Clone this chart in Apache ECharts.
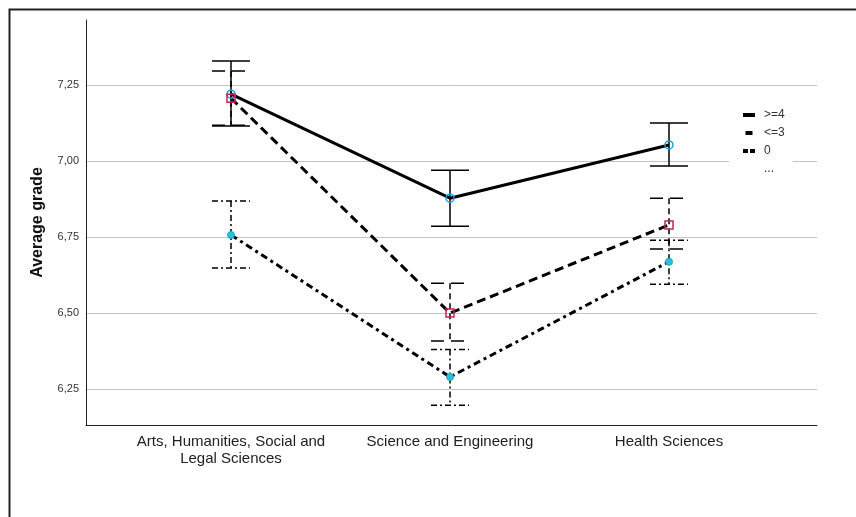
<!DOCTYPE html>
<html>
<head>
<meta charset="utf-8">
<script src="https://cdn.jsdelivr.net/npm/echarts@6/dist/echarts.min.js"></script>
<style>
  html, body { margin: 0; padding: 0; background: #fff; }
  #main { width: 856px; height: 517px; }
</style>
</head>
<body>
<div id="main"></div>
<script>
var categories = ['Arts, Humanities, Social and\nLegal Sciences', 'Science and Engineering', 'Health Sciences'];
var groups = ['>=4', '<=3', '0'];

// means and error bar ends (low / high)
var meanHigh = [7.220, 6.878, 7.053];
var lowHigh = [7.115, 6.786, 6.984];
var upHigh = [7.329, 6.970, 7.125];

var meanMid = [7.207, 6.500, 6.790];
var lowMid = [7.118, 6.408, 6.711];
var upMid = [7.296, 6.598, 6.878];

var meanZero = [6.757, 6.290, 6.669];
var lowZero = [6.648, 6.197, 6.595];
var upZero = [6.869, 6.380, 6.740];

var yTicks = [6.25, 6.5, 6.75, 7.0, 7.25];
var yMin = 6.132, yMax = 7.464;

var chartDom = document.getElementById('main');
var myChart = echarts.init(chartDom, null, { renderer: 'canvas' });

function errData(lo, hi) {
  return lo.map(function (v, i) { return [i, v, hi[i]]; });
}

function makeErrRender(capDash, barDash) {
  return function (params, api) {
    var x = api.value(0);
    var lo = api.coord([x, api.value(1)]);
    var hi = api.coord([x, api.value(2)]);
    var hw = 19;
    var st = { stroke: '#000', lineWidth: 1.5, lineDash: barDash };
    var cs = { stroke: '#000', lineWidth: 1.5, lineDash: capDash };
    return {
      type: 'group',
      children: [
        { type: 'line', shape: { x1: hi[0], y1: hi[1], x2: lo[0], y2: lo[1] }, style: st },
        { type: 'line', shape: { x1: hi[0] - hw, y1: hi[1], x2: hi[0] + hw, y2: hi[1] }, style: cs },
        { type: 'line', shape: { x1: lo[0] - hw, y1: lo[1], x2: lo[0] + hw, y2: lo[1] }, style: cs }
      ]
    };
  };
}

var fontFam = '"Liberation Sans", Arial, sans-serif';
var legendIconStyle = { color: '#000', borderWidth: 0, opacity: 1 };

var option = {
  animation: false,
  backgroundColor: '#fff',
  graphic: [{
    type: 'rect',
    left: 7, top: 7,
    shape: { width: 870, height: 530 },
    style: { fill: 'none', stroke: '#222', lineWidth: 2 },
    silent: true,
    z: -1
  }],
  grid: [
    { left: 86, right: 39, top: 20, bottom: 92 },
    { left: 121.5, right: 77.5, top: 20, bottom: 92 }
  ],
  xAxis: [
    {
      gridIndex: 0, type: 'value', min: 0, max: 1,
      axisLine: { show: true, onZero: false, lineStyle: { color: '#222', width: 1 } },
      axisTick: { show: false }, axisLabel: { show: false }, splitLine: { show: false }
    },
    {
      gridIndex: 1, type: 'category', data: categories,
      axisLine: { show: false }, axisTick: { show: false },
      axisLabel: { color: '#222', fontSize: 15, lineHeight: 17, margin: 8, fontFamily: fontFam, interval: 0 }
    }
  ],
  yAxis: [
    {
      gridIndex: 0, type: 'value', min: yMin, max: yMax,
      name: 'Average grade', nameLocation: 'middle', nameGap: 40,
      nameTextStyle: { fontSize: 16, fontWeight: 'bold', color: '#111', fontFamily: fontFam },
      axisLine: { show: true, lineStyle: { color: '#222', width: 1 } },
      axisTick: { show: false, customValues: yTicks },
      axisLabel: {
        customValues: yTicks, color: '#333', fontSize: 11, margin: 7, fontFamily: fontFam,
        formatter: function (v) { return v.toFixed(2).replace('.', ','); }
      },
      splitLine: { show: true, lineStyle: { color: '#c4c4c4', width: 1 } }
    },
    {
      gridIndex: 1, type: 'value', min: yMin, max: yMax, show: false,
      splitLine: { show: false }
    }
  ],
  legend: {
    orient: 'vertical',
    left: 729, top: 104,
    padding: [4, 8, 4, 14],
    backgroundColor: '#fff',
    itemWidth: 12, itemHeight: 4, itemGap: 4,
    textStyle: { color: '#333', fontSize: 12, lineHeight: 14, fontFamily: fontFam, padding: [0, 0, 0, 4] },
    data: [
      { name: groups[0], icon: 'rect', itemStyle: legendIconStyle },
      { name: groups[1], icon: 'path://M0,0H7V4H0Z', itemStyle: legendIconStyle },
      { name: groups[2], icon: 'path://M0,0H5V4H0Z M7,0H12V4H7Z', itemStyle: legendIconStyle },
      { name: '...', icon: 'none' }
    ],
    z: 10
  },
  series: [
    {
      name: groups[0], type: 'line', xAxisIndex: 1, yAxisIndex: 1, data: meanHigh,
      lineStyle: { color: '#000', width: 3 },
      symbol: 'circle', symbolSize: 8,
      itemStyle: { color: 'rgba(0,0,0,0)', borderColor: '#1f9ad8', borderWidth: 1.5 },
      z: 5
    },
    {
      name: groups[1], type: 'line', xAxisIndex: 1, yAxisIndex: 1, data: meanMid,
      lineStyle: { color: '#000', width: 3, type: [9, 5] },
      symbol: 'rect', symbolSize: 8,
      itemStyle: { color: 'rgba(0,0,0,0)', borderColor: '#c0245e', borderWidth: 1.5 },
      z: 5
    },
    {
      name: groups[2], type: 'line', xAxisIndex: 1, yAxisIndex: 1, data: meanZero,
      lineStyle: { color: '#000', width: 3, type: [7, 4, 3, 4] },
      symbol: 'circle', symbolSize: 7,
      itemStyle: { color: '#27c2d9', borderColor: '#1aa8c4', borderWidth: 1 },
      z: 5
    },
    {
      name: '...', type: 'line', xAxisIndex: 1, yAxisIndex: 1, data: []
    },
    {
      type: 'custom', xAxisIndex: 1, yAxisIndex: 1, data: errData(lowHigh, upHigh),
      renderItem: makeErrRender(null, null), z: 4, silent: true
    },
    {
      type: 'custom', xAxisIndex: 1, yAxisIndex: 1, data: errData(lowMid, upMid),
      renderItem: makeErrRender([13, 7], [6, 4]), z: 4, silent: true
    },
    {
      type: 'custom', xAxisIndex: 1, yAxisIndex: 1, data: errData(lowZero, upZero),
      renderItem: makeErrRender([6, 3, 2, 3], [6, 3, 2, 3]), z: 4, silent: true
    }
  ]
};
myChart.setOption(option);
</script>
</body>
</html>
